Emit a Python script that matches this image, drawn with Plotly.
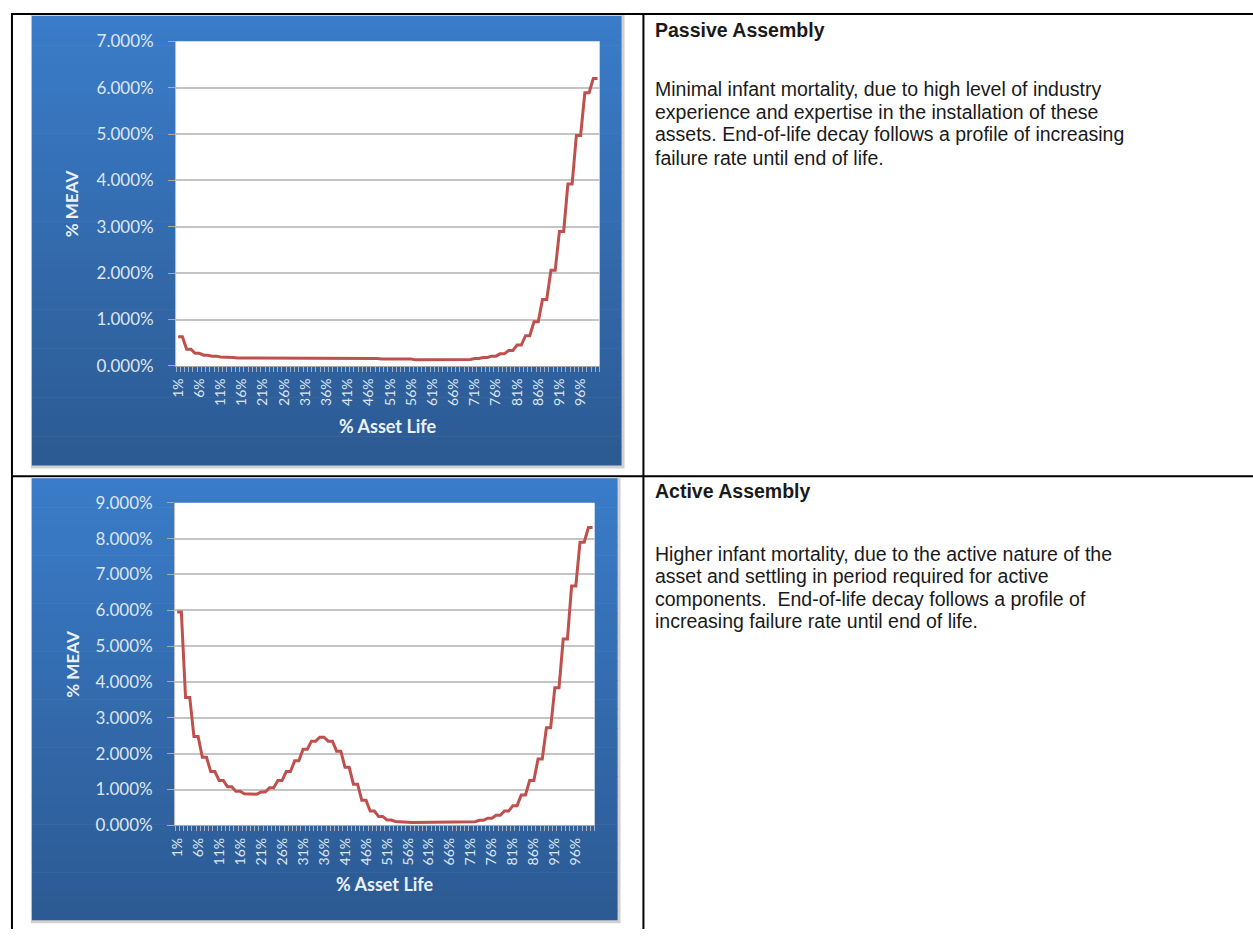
import plotly.graph_objects as go

W, H = 1253, 939

# ---------------- data ----------------
categories = [f"{i}%" for i in range(1, 101)]
x_index = list(range(1, 101))
tick_positions = list(range(1, 101, 5))
tick_labels = [categories[i - 1] for i in tick_positions]

passive_meav = [
    0.63, 0.63, 0.36, 0.36, 0.27, 0.27, 0.23, 0.23, 0.21, 0.21,
    0.19, 0.19, 0.18, 0.18, 0.17, 0.17, 0.16, 0.16, 0.16, 0.16,
    0.16, 0.16, 0.16, 0.16, 0.16, 0.16, 0.16, 0.16, 0.16, 0.16,
    0.16, 0.16, 0.16, 0.16, 0.16, 0.16, 0.16, 0.16, 0.16, 0.16,
    0.16, 0.16, 0.16, 0.16, 0.16, 0.16, 0.16, 0.16, 0.15, 0.15,
    0.15, 0.15, 0.15, 0.15, 0.15, 0.15, 0.13, 0.13, 0.13, 0.13,
    0.13, 0.13, 0.13, 0.13, 0.13, 0.13, 0.13, 0.13, 0.14, 0.14,
    0.16, 0.16, 0.18, 0.18, 0.21, 0.21, 0.26, 0.26, 0.33, 0.33,
    0.45, 0.45, 0.65, 0.65, 0.95, 0.95, 1.43, 1.43, 2.06, 2.06,
    2.90, 2.90, 3.92, 3.92, 4.97, 4.97, 5.89, 5.89, 6.20, 6.20,
]

active_meav = [
    5.95, 5.95, 3.57, 3.57, 2.48, 2.48, 1.90, 1.90, 1.50, 1.50,
    1.25, 1.25, 1.08, 1.08, 0.95, 0.95, 0.88, 0.88, 0.87, 0.87,
    0.93, 0.93, 1.05, 1.05, 1.25, 1.25, 1.50, 1.50, 1.80, 1.80,
    2.12, 2.12, 2.35, 2.35, 2.46, 2.46, 2.35, 2.35, 2.07, 2.07,
    1.62, 1.62, 1.15, 1.15, 0.70, 0.70, 0.40, 0.40, 0.25, 0.25,
    0.15, 0.15, 0.11, 0.11, 0.09, 0.09, 0.08, 0.08, 0.08, 0.08,
    0.08, 0.08, 0.08, 0.08, 0.08, 0.08, 0.08, 0.08, 0.08, 0.08,
    0.10, 0.10, 0.14, 0.14, 0.20, 0.20, 0.28, 0.28, 0.40, 0.40,
    0.55, 0.55, 0.85, 0.85, 1.25, 1.25, 1.85, 1.85, 2.72, 2.72,
    3.84, 3.84, 5.20, 5.20, 6.68, 6.68, 7.90, 7.90, 8.31, 8.31,
]

passive_title = "Passive Assembly"
passive_lines = [
    "Minimal infant mortality, due to high level of industry",
    "experience and expertise in the installation of these",
    "assets. End-of-life decay follows a profile of increasing",
    "failure rate until end of life.",
]
active_title = "Active Assembly"
active_lines = [
    "Higher infant mortality, due to the active nature of the",
    "asset and settling in period required for active",
    "components.  End-of-life decay follows a profile of",
    "increasing failure rate until end of life.",
]

# ---------------- helpers ----------------
def px(x):
    return x / W


def py(y):
    return 1 - y / H


def hexmix(c1, c2, t):
    a = [int(c1[i:i + 2], 16) for i in (1, 3, 5)]
    b = [int(c2[i:i + 2], 16) for i in (1, 3, 5)]
    return "#" + "".join(f"{round(a[k] + (b[k] - a[k]) * t):02x}" for k in range(3))


TICK_FONT = "Lato, Carlito, Calibri, sans-serif"
LABEL_COL = "#dfe6ef"
TITLE_COL = "#eaf0f7"
GRID_COL = "#c4c4c4"
DIV_X = 640

shapes = []
annotations = []

# table borders
for (x0, y0, x1, y1) in [(5, 2, 5, H), (4, 3, W, 3), (DIV_X, 2, DIV_X, H), (5, 476, W, 476)]:
    shapes.append(dict(type="line", xref="paper", yref="paper",
                       x0=px(x0), y0=py(y0), x1=px(x1), y1=py(y1),
                       line=dict(color="#000000", width=2), layer="below"))

panels = [
    dict(box=(25, 5, 618, 465), plot=(170, 31, 596, 363)),
    dict(box=(25, 478, 614, 930), plot=(169, 503, 591, 833)),
]

TOP_COL, BOT_COL = "#3a7cc9", "#2c5a93"
for p in panels:
    x0, y0, x1, y1 = p["box"]
    shapes.append(dict(type="rect", xref="paper", yref="paper",
                       x0=px(x0 - 1), y0=py(y1 + 3), x1=px(x1 + 3), y1=py(y0 - 1),
                       fillcolor="#d0d0d0", line=dict(width=0), layer="below"))
    n = 46
    for k in range(n):
        ya = y0 + (y1 - y0) * k / n
        yb = y0 + (y1 - y0) * (k + 1) / n
        shapes.append(dict(type="rect", xref="paper", yref="paper",
                           x0=px(x0), y0=py(min(yb + 0.6, y1)), x1=px(x1), y1=py(ya),
                           fillcolor=hexmix(TOP_COL, BOT_COL, k / (n - 1)),
                           line=dict(width=0), layer="below"))
    a0, b0, a1, b1 = p["plot"]
    shapes.append(dict(type="rect", xref="paper", yref="paper",
                       x0=px(a0), y0=py(b1), x1=px(a1), y1=py(b0),
                       fillcolor="#ffffff", line=dict(width=0), layer="below"))

fig = go.Figure()
fig.add_trace(go.Scatter(x=x_index, y=passive_meav, mode="lines",
                         line=dict(color="#c0504d", width=3),
                         xaxis="x", yaxis="y", showlegend=False, hoverinfo="skip"))
fig.add_trace(go.Scatter(x=x_index, y=active_meav, mode="lines",
                         line=dict(color="#c0504d", width=3),
                         xaxis="x2", yaxis="y2", showlegend=False, hoverinfo="skip"))


def xaxis_cfg(plot, anchor):
    a0, b0, a1, b1 = plot
    return dict(domain=[px(a0), px(a1)], range=[0.5, 100.5], anchor=anchor,
                tickmode="array", tickvals=tick_positions, ticktext=tick_labels,
                tickangle=-90, ticks="", showgrid=False, zeroline=False,
                showline=True, linecolor="#a9a9a9", linewidth=1,
                tickfont=dict(family=TICK_FONT, size=14, color=LABEL_COL),
                ticklabelstandoff=6,
                minor=dict(tickmode="linear", tick0=0.5, dtick=1, ticks="outside",
                           ticklen=5, tickcolor="#9fb0c8", tickwidth=1, showgrid=False),
                fixedrange=True)


def yaxis_cfg(plot, ymax, anchor):
    a0, b0, a1, b1 = plot
    return dict(domain=[py(b1), py(b0)], range=[0, ymax], anchor=anchor,
                tickmode="linear", tick0=0, dtick=1, tickformat=".3f", ticksuffix="%",
                ticks="outside", ticklen=7, tickcolor="#a9a9a9", tickwidth=1,
                showgrid=True, gridcolor=GRID_COL, gridwidth=1.5, zeroline=False,
                showline=True, linecolor="#bdbdbd", linewidth=1,
                tickfont=dict(family=TICK_FONT, size=17, color=LABEL_COL),
                ticklabelstandoff=11, fixedrange=True)


p1 = panels[0]["plot"]
p2 = panels[1]["plot"]

# axis titles
for plot in (p1, p2):
    a0, b0, a1, b1 = plot
    annotations.append(dict(xref="paper", yref="paper", x=px(65), y=py((b0 + b1) / 2),
                            text="<b>% MEAV</b>", textangle=-90, showarrow=False,
                            font=dict(family=TICK_FONT, size=17, color=TITLE_COL),
                            xanchor="center", yanchor="middle"))
for xc, yc in [(383, 425), (380, 893)]:
    annotations.append(dict(xref="paper", yref="paper", x=px(xc), y=py(yc),
                            text="<b>% Asset Life</b>", showarrow=False,
                            font=dict(family=TICK_FONT, size=18, color=TITLE_COL),
                            xanchor="center", yanchor="middle"))

TXT_FONT = "Liberation Sans, Arial, sans-serif"
TXT_X = 650
TXT_SIZE = 19.5
for title, lines, ytitle, ylines in [
    (passive_title, passive_lines, 19, [80, 103, 126, 150]),
    (active_title, active_lines, 491, [555, 578, 601, 624]),
]:
    annotations.append(dict(xref="paper", yref="paper", x=px(TXT_X), y=py(ytitle),
                            text="<b>" + title + "</b>", showarrow=False,
                            xanchor="left", yanchor="middle", align="left",
                            font=dict(family=TXT_FONT, size=TXT_SIZE, color="#1a1a1a")))
    for line, yl in zip(lines, ylines):
        annotations.append(dict(xref="paper", yref="paper", x=px(TXT_X), y=py(yl),
                                text=line, showarrow=False,
                                xanchor="left", yanchor="middle", align="left",
                                font=dict(family=TXT_FONT, size=TXT_SIZE, color="#1a1a1a")))

fig.update_layout(
    width=W, height=H, margin=dict(l=0, r=0, t=0, b=0, pad=0),
    paper_bgcolor="#ffffff", plot_bgcolor="rgba(0,0,0,0)",
    xaxis=xaxis_cfg(p1, "y"), yaxis=yaxis_cfg(p1, 7, "x"),
    xaxis2=xaxis_cfg(p2, "y2"), yaxis2=yaxis_cfg(p2, 9, "x2"),
    shapes=shapes, annotations=annotations, showlegend=False,
)

fig.write_html(
    "out.html",
    config={"displayModeBar": False, "responsive": False},
    post_script=("document.documentElement.style.margin='0px';"
                 "document.body.style.margin='0px';document.body.style.padding='0px';"
                 "document.body.style.overflow='hidden';"),
)
